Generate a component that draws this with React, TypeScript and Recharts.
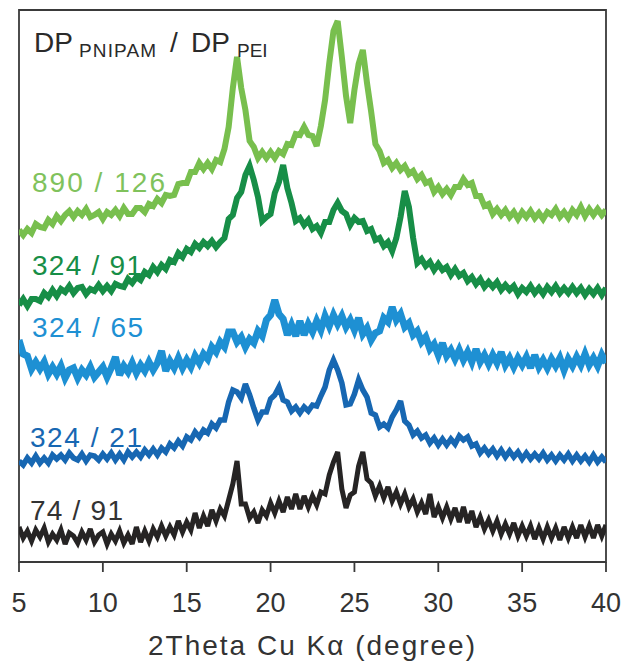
import React from "react";
import { LineChart, Line, XAxis, YAxis, ReferenceArea } from "recharts";

// 2Theta sampling (degree)
const twoTheta = [
  5, 5.25, 5.5, 5.75, 6, 6.25, 6.5, 6.75, 7, 7.25, 7.5, 7.75, 8, 8.25, 8.5, 8.75,
  9, 9.25, 9.5, 9.75, 10, 10.25, 10.5, 10.75, 11, 11.25, 11.5, 11.75, 12, 12.25, 12.5, 12.75,
  13, 13.25, 13.5, 13.75, 14, 14.25, 14.5, 14.75, 15, 15.25, 15.5, 15.75, 16, 16.25, 16.5, 16.75,
  17, 17.25, 17.5, 17.75, 18, 18.25, 18.5, 18.75, 19, 19.25, 19.5, 19.75, 20, 20.25, 20.5, 20.75,
  21, 21.25, 21.5, 21.75, 22, 22.25, 22.5, 22.75, 23, 23.25, 23.5, 23.75, 24, 24.25, 24.5, 24.75,
  25, 25.25, 25.5, 25.75, 26, 26.25, 26.5, 26.75, 27, 27.25, 27.5, 27.75, 28, 28.25, 28.5, 28.75,
  29, 29.25, 29.5, 29.75, 30, 30.25, 30.5, 30.75, 31, 31.25, 31.5, 31.75, 32, 32.25, 32.5, 32.75,
  33, 33.25, 33.5, 33.75, 34, 34.25, 34.5, 34.75, 35, 35.25, 35.5, 35.75, 36, 36.25, 36.5, 36.75,
  37, 37.25, 37.5, 37.75, 38, 38.25, 38.5, 38.75, 39, 39.25, 39.5, 39.75, 40,
];

// stacked intensities (a.u., offset)
const dp890_126 = [
  332, 327, 333, 329, 338, 335, 334, 342, 338, 346, 341, 347, 351, 345, 351, 347,
  353, 345, 347, 350, 343, 350, 347, 352, 346, 354, 348, 348, 354, 354, 350, 358,
  356, 363, 359, 367, 366, 367, 378, 379, 379, 390, 390, 399, 393, 399, 393, 402,
  400, 413, 435, 474, 505, 474, 452, 421, 415, 404, 410, 404, 410, 404, 411, 408,
  418, 417, 428, 427, 435, 427, 426, 416, 436, 462, 499, 531, 541, 505, 466, 439,
  472, 498, 512, 479, 450, 418, 411, 399, 402, 394, 399, 392, 396, 388, 391, 383,
  387, 379, 381, 370, 375, 368, 373, 367, 375, 375, 383, 377, 379, 366, 366, 356,
  358, 348, 353, 347, 352, 345, 350, 343, 350, 345, 351, 344, 349, 343, 350, 347,
  353, 345, 350, 344, 352, 347, 355, 346, 353, 347, 353, 347, 352,
];
const dp324_91 = [
  257, 263, 256, 263, 263, 261, 269, 265, 272, 266, 273, 270, 276, 269, 274, 275,
  268, 273, 271, 277, 271, 276, 271, 278, 276, 275, 283, 279, 285, 282, 290, 287,
  295, 290, 297, 293, 302, 300, 309, 305, 313, 310, 318, 314, 320, 316, 321, 315,
  320, 324, 343, 347, 364, 370, 387, 396, 382, 365, 341, 345, 348, 369, 380, 397,
  374, 359, 341, 344, 337, 342, 333, 336, 329, 340, 340, 352, 359, 351, 348, 337,
  344, 340, 341, 331, 333, 322, 324, 316, 320, 311, 324, 345, 371, 355, 324, 299,
  303, 296, 300, 292, 298, 292, 295, 287, 293, 286, 289, 281, 285, 278, 283, 275,
  280, 275, 280, 272, 277, 272, 276, 268, 274, 270, 276, 269, 274, 268, 275, 270,
  276, 269, 274, 269, 275, 269, 274, 267, 273, 268, 274, 267, 274,
];
const dp324_65 = [
  222, 208, 206, 193, 200, 193, 200, 188, 195, 188, 196, 184, 192, 194, 184, 192,
  187, 195, 185, 190, 195, 185, 194, 205, 187, 196, 190, 199, 189, 197, 191, 200,
  192, 199, 211, 191, 201, 194, 204, 194, 202, 195, 206, 199, 208, 203, 215, 210,
  220, 215, 230, 230, 220, 225, 215, 223, 219, 231, 226, 242, 247, 262, 248, 243,
  227, 237, 226, 241, 227, 238, 230, 241, 232, 246, 236, 247, 238, 246, 235, 242,
  232, 244, 228, 234, 222, 229, 231, 244, 240, 255, 242, 248, 235, 239, 227, 231,
  220, 225, 213, 218, 207, 219, 206, 212, 203, 212, 202, 210, 200, 213, 200, 207,
  198, 207, 199, 210, 197, 204, 195, 204, 197, 205, 194, 207, 195, 202, 194, 203,
  196, 204, 192, 203, 196, 205, 197, 208, 197, 204, 196, 207, 199,
];
const dp324_21 = [
  101, 97, 104, 99, 106, 99, 104, 99, 107, 103, 107, 102, 109, 104, 102, 108,
  101, 107, 106, 102, 108, 103, 109, 102, 108, 102, 110, 105, 110, 105, 112, 107,
  113, 107, 114, 110, 118, 114, 121, 116, 125, 122, 130, 125, 132, 129, 138, 134,
  142, 142, 160, 172, 170, 164, 178, 167, 154, 142, 150, 150, 163, 167, 175, 162,
  160, 151, 155, 149, 155, 151, 157, 156, 166, 175, 192, 202, 192, 179, 157, 158,
  168, 182, 172, 165, 149, 147, 135, 138, 134, 145, 152, 161, 141, 137, 127, 131,
  124, 127, 119, 124, 117, 123, 117, 123, 118, 126, 122, 125, 116, 118, 109, 114,
  108, 113, 106, 112, 105, 111, 105, 110, 103, 109, 103, 108, 103, 109, 102, 107,
  101, 107, 102, 108, 101, 107, 101, 106, 100, 107, 100, 105, 100,
];
const dp74_91 = [
  35, 24, 31, 21, 32, 25, 34, 20, 28, 22, 32, 18, 29, 26, 19, 30,
  22, 33, 20, 27, 30, 18, 28, 21, 31, 19, 27, 18, 35, 20, 31, 21,
  33, 25, 36, 26, 35, 27, 41, 30, 40, 32, 49, 34, 46, 36, 52, 41,
  53, 46, 62, 78, 101, 58, 58, 44, 50, 39, 52, 46, 59, 49, 61, 50,
  65, 53, 68, 53, 66, 55, 66, 57, 70, 68, 87, 100, 110, 73, 54, 67,
  70, 96, 110, 83, 79, 66, 76, 64, 75, 61, 70, 58, 68, 55, 63, 50,
  59, 48, 68, 45, 55, 44, 55, 43, 54, 40, 55, 39, 51, 35, 45, 33,
  42, 31, 41, 28, 38, 28, 39, 26, 36, 26, 36, 23, 34, 23, 35, 24,
  34, 22, 35, 24, 35, 24, 37, 25, 36, 24, 37, 26, 37,
];

const xTicks = [5, 10, 15, 20, 25, 30, 35, 40];
const seriesLabels = ["890 / 126", "324 / 91", "324 / 65", "324 / 21", "74 / 91"];

const rows = twoTheta.map((x, i) => ({
  x,
  a: dp890_126[i],
  b: dp324_91[i],
  c: dp324_65[i],
  d: dp324_21[i],
  e: dp74_91[i],
}));

const C_LG = "#78bf4e";
const C_DG = "#178e47";
const C_LB = "#1e90d3";
const C_MB = "#1767b2";
const C_BK = "#262424";
const AX = "#3a3a3a";
const FONT = "'Liberation Sans', Arial, Helvetica, sans-serif";

export default function App() {
  return (
    <div style={{ position: "absolute", left: 0, top: 0, width: 627, height: 667, background: "#fff" }}>
      <LineChart
        width={627}
        height={667}
        data={rows}
        margin={{ top: 10, right: 21, left: 19, bottom: 0 }}
      >
        <XAxis
          dataKey="x"
          type="number"
          domain={[5, 40]}
          ticks={xTicks}
          allowDataOverflow
          height={105}
          tickSize={10}
          tickMargin={21}
          axisLine={{ stroke: AX, strokeWidth: 1.8 }}
          tickLine={{ stroke: AX, strokeWidth: 1.8 }}
          tick={{ fill: "#333", fontSize: 27, fontFamily: FONT }}
        />
        <YAxis type="number" domain={[0, 552]} hide allowDataOverflow />
        <ReferenceArea
          x1={5}
          x2={40}
          y1={0}
          y2={552}
          fill="none"
          fillOpacity={0}
          stroke={AX}
          strokeWidth={1.8}
          strokeOpacity={1}
          ifOverflow="visible"
        />
        <Line dataKey="e" stroke={C_BK} strokeWidth={5} dot={false} isAnimationActive={false} strokeLinejoin="miter" strokeMiterlimit={3} />
        <Line dataKey="d" stroke={C_MB} strokeWidth={5.5} dot={false} isAnimationActive={false} strokeLinejoin="miter" strokeMiterlimit={3} />
        <Line dataKey="c" stroke={C_LB} strokeWidth={7} dot={false} isAnimationActive={false} strokeLinejoin="miter" strokeMiterlimit={3} />
        <Line dataKey="b" stroke={C_DG} strokeWidth={6} dot={false} isAnimationActive={false} strokeLinejoin="miter" strokeMiterlimit={3} />
        <Line dataKey="a" stroke={C_LG} strokeWidth={6} dot={false} isAnimationActive={false} strokeLinejoin="miter" strokeMiterlimit={3} />
      </LineChart>
      <svg
        width={627}
        height={667}
        style={{ position: "absolute", left: 0, top: 0, pointerEvents: "none" }}
        fontFamily={FONT}
      >
        <text x={34} y={52} fontSize={28} fill="#2a2a2a">DP</text>
        <text x={79} y={57} fontSize={19} fill="#2a2a2a" textLength={77} lengthAdjust="spacing">PNIPAM</text>
        <text x={170} y={52} fontSize={28} fill="#2a2a2a">/</text>
        <text x={191} y={52} fontSize={28} fill="#2a2a2a">DP</text>
        <text x={237} y={57} fontSize={19} fill="#2a2a2a">PEI</text>

        <text x={32} y={192} fontSize={28} fill="#80c25c" textLength={133} lengthAdjust="spacing">{seriesLabels[0]}</text>
        <text x={32} y={275} fontSize={28} fill={C_DG} textLength={110} lengthAdjust="spacing">{seriesLabels[1]}</text>
        <text x={32} y={337} fontSize={28} fill={C_LB} textLength={111} lengthAdjust="spacing">{seriesLabels[2]}</text>
        <text x={30} y={447} fontSize={28} fill={C_MB} textLength={112} lengthAdjust="spacing">{seriesLabels[3]}</text>
        <text x={30} y={520} fontSize={28} fill="#333" textLength={93} lengthAdjust="spacing">{seriesLabels[4]}</text>

        <text x={148} y={655} fontSize={28} fill="#333" textLength={327} lengthAdjust="spacing">2Theta Cu Kα (degree)</text>
      </svg>
    </div>
  );
}
